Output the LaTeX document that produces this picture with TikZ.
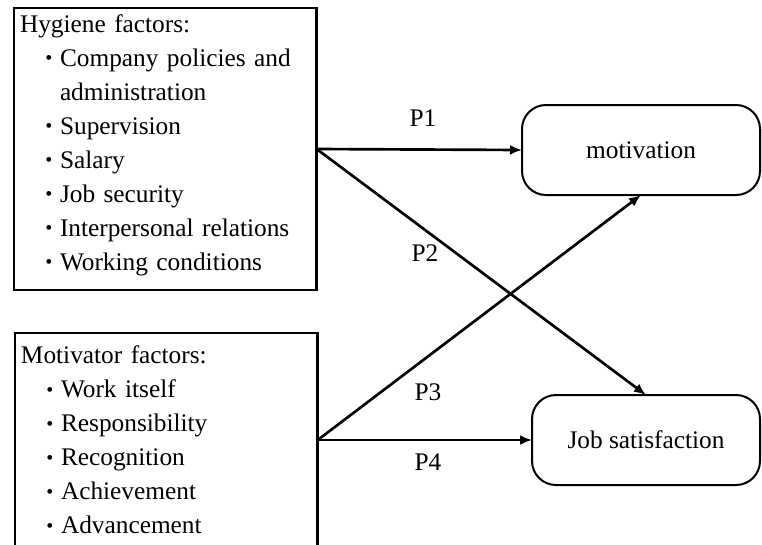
\documentclass[tikz,border=0pt]{standalone}
\usepackage{fontspec}
\setmainfont{Liberation Serif}
\usepackage{tikz}
\usetikzlibrary{arrows.meta}

% one bulleted line inside a factor box
\newcommand{\itm}[1]{\hspace*{19pt}\makebox[11pt][l]{\raisebox{1pt}{\fontsize{15}{15}\selectfont\textbullet}}#1}

\begin{document}
\begin{tikzpicture}[x=0.75pt, y=-0.75pt,
    every node/.style={font=\fontsize{19}{25.5}\selectfont, outer sep=0pt},
    factorbox/.style={draw, line width=2pt, anchor=north west, align=left, text width=218pt, inner sep=4.5pt},
    outcome/.style={draw, line width=1.5pt, rounded corners=18pt, minimum height=67.5pt},
    link/.style={line width=2pt, -{Latex[length=9pt, width=7.5pt]}}]
    \clip (0,0) rectangle (762,544);

    \node[factorbox, minimum height=211.5pt] (hyg) at (14,8) {Hygiene factors:\\
        \itm{Company policies and}\\
        \hspace*{30pt}administration\\
        \itm{Supervision}\\
        \itm{Salary}\\
        \itm{Job security}\\
        \itm{Interpersonal relations}\\
        \itm{Working conditions}\rule[-10pt]{0pt}{10pt}};
    \node[factorbox, minimum height=160.5pt] (mtr) at (15,333) {Motivator factors:\\
        \itm{Work itself}\\
        \itm{Responsibility}\\
        \itm{Recognition}\\
        \itm{Achievement}\\
        \itm{Advancement}};

    \node[outcome, minimum width=178.5pt] (mot) at (641,150) {motivation};
    \node[outcome, minimum width=171pt] (job) at (646,440) {Job satisfaction};

    \draw[link] (hyg.east) -- (mot.west);
    \draw[link] (hyg.east) -- (job.north);
    \draw[link] (mtr.east) -- (mot.south);
    \draw[link] (mtr.east) -- (job.west);

    \node (p1) at (423,118) {P1};
    \node (p2) at (425,253) {P2};
    \node (p3) at (428,392) {P3};
    \node (p4) at (428,462) {P4};
\end{tikzpicture}
\end{document}
